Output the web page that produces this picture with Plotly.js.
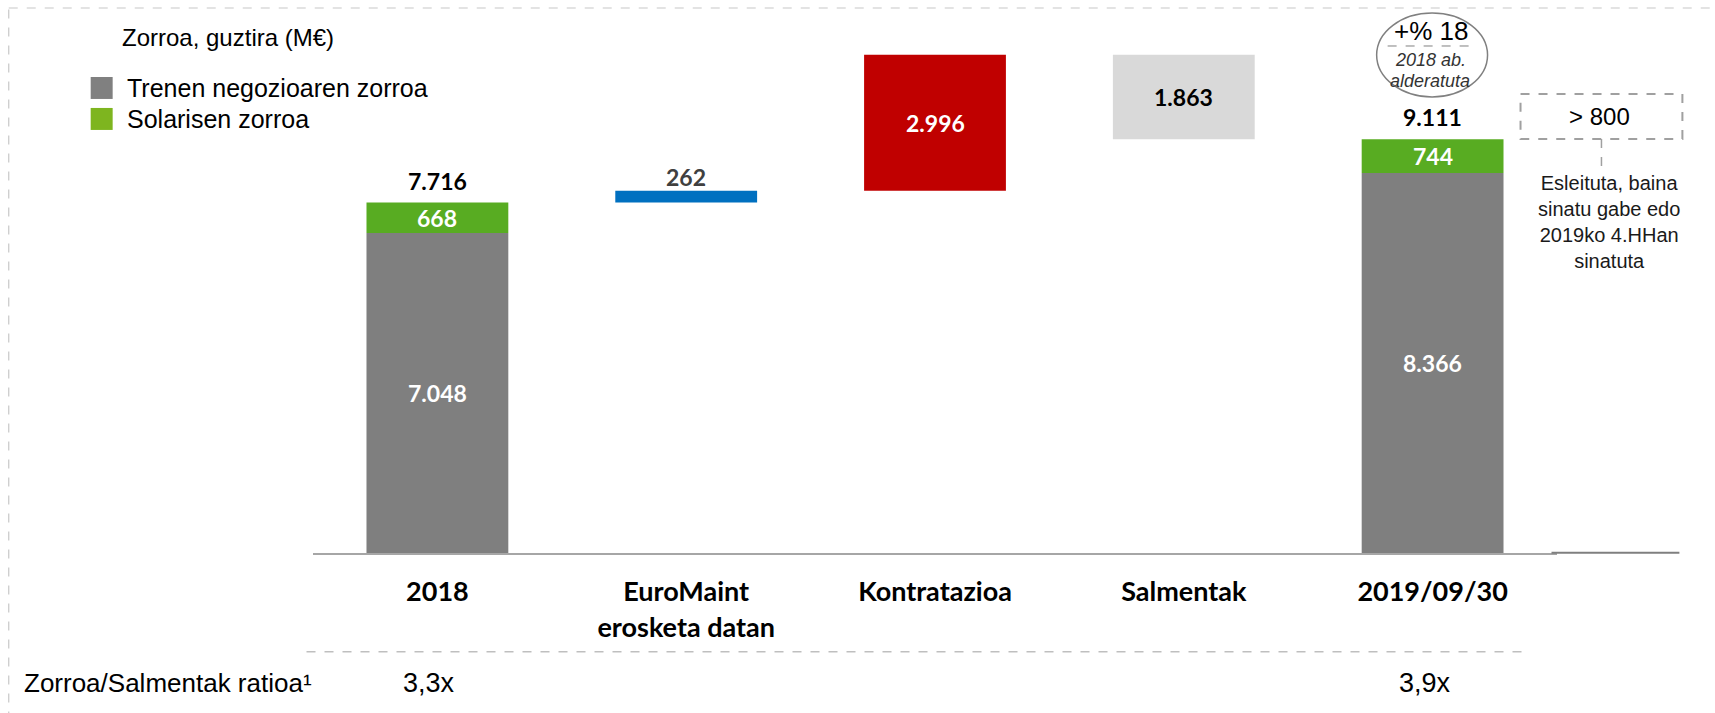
<!DOCTYPE html>
<html>
<head>
<meta charset="utf-8">
<script src="https://cdn.plot.ly/plotly-3.0.1.min.js"></script>
<style>html,body{margin:0;padding:0;background:#fff;}#chart{width:1715px;height:713px;}</style>
</head>
<body>
<div id="chart"></div>
<script>
// ---------- data ----------
const categories = ['2018', 'EuroMaint<br>erosketa datan', 'Kontratazioa', 'Salmentak', '2019/09/30'];
const trainBacklog = [7048, null, null, null, 8366];
const solarisBacklog = [668, null, null, null, 744];
const totalBacklog = [7716, null, null, null, 9111];
const bridgeChanges = [null, 262, 2996, -1863, null];
const backlogSalesRatio = ['3,3x', '', '', '', '3,9x'];
const legendNames = ['Trenen negozioaren zorroa', 'Solarisen zorroa'];
const chartTitle = 'Zorroa, guztira (M€)';
const ratioLabel = 'Zorroa/Salmentak ratioa¹';
const growthText = '+% 18';
const growthSub = ['2018 ab.', 'alderatuta'];
const pipelineValue = '> 800';
const pipelineNote = ['Esleituta, baina', 'sinatu gabe edo', '2019ko 4.HHan', 'sinatuta'];

// ---------- styles ----------
const C_GREY = '#7F7F7F', C_GREEN = '#58AC22', C_BLUE = '#0070C0', C_RED = '#C00000', C_LIGHT = '#D9D9D9';
const BOLD = 'Lato, "Open Sans", sans-serif';
const SANS = '"Liberation Sans", Arial, sans-serif';
const W = 1715, H = 713;
const M = {l: 312.5, r: 157.5, t: 30, b: 159.7};
const PW = W - M.l - M.r, PH = H - M.t - M.b;
const px = x => (x - M.l) / PW;           // pixel -> paper x
const py = y => (H - M.b - y) / PH;       // pixel -> paper y
const fmt = v => String(Math.abs(v)).replace(/\B(?=(\d{3})+(?!\d))/g, '.');
const BW = 0.57;

// bridge bases (running total from the first column)
const bases = [];
let running = totalBacklog[0];
bridgeChanges.forEach((d) => {
  if (d == null) { bases.push(null); return; }
  bases.push(running);
  running += d;
});
const bridgeColors = bridgeChanges.map((d, i) => i === 1 ? C_BLUE : (d > 0 ? C_RED : C_LIGHT));

const traces = [
  {type: 'bar', x: categories, y: trainBacklog, name: legendNames[0], width: BW,
   marker: {color: C_GREY}, hoverinfo: 'skip', showlegend: false},
  {type: 'bar', x: categories, y: solarisBacklog, base: trainBacklog, name: legendNames[1], width: BW,
   marker: {color: C_GREEN}, hoverinfo: 'skip', showlegend: false},
  {type: 'bar', x: categories, y: bridgeChanges, base: bases, width: BW,
   marker: {color: bridgeColors}, hoverinfo: 'skip', showlegend: false}
];

const ann = [];
const A = (o) => ann.push(Object.assign({showarrow: false, xanchor: 'center', yanchor: 'middle'}, o));
// value labels (x given as category index)
categories.forEach((c, i) => {
  if (trainBacklog[i] != null) {
    A({x: i, y: trainBacklog[i] / 2, text: fmt(trainBacklog[i]),
      font: {family: BOLD, size: 23, color: '#fff', weight: 700}});
    A({x: i, y: trainBacklog[i] + solarisBacklog[i] / 2, text: fmt(solarisBacklog[i]),
      font: {family: BOLD, size: 23, color: '#fff', weight: 700}});
    A({x: i, y: trainBacklog[i] + solarisBacklog[i], yshift: 22, text: fmt(totalBacklog[i]),
      font: {family: BOLD, size: 23, color: '#000', weight: 700}});
  }
  if (bridgeChanges[i] != null) {
    const d = bridgeChanges[i];
    if (i === 1) {
      A({x: i, y: bases[i] + d, yshift: 14, text: fmt(d),
        font: {family: BOLD, size: 23, color: '#404040', weight: 700}});
    } else {
      A({x: i, y: bases[i] + d / 2, text: fmt(d),
        font: {family: BOLD, size: 23, color: d > 0 ? '#fff' : '#000', weight: 700}});
    }
  }
  if (backlogSalesRatio[i]) {
    A({x: i, xref: 'x', y: py(683), yref: 'paper', xshift: -8, text: backlogSalesRatio[i],
      font: {family: SANS, size: 27, color: '#000'}});
  }
});
// title and legend
A({xref: 'paper', yref: 'paper', x: px(119), y: py(38), xanchor: 'left', text: chartTitle,
  font: {family: SANS, size: 24, color: '#000'}});
A({xref: 'paper', yref: 'paper', x: px(124), y: py(88), xanchor: 'left', text: legendNames[0],
  font: {family: SANS, size: 25, color: '#000'}});
A({xref: 'paper', yref: 'paper', x: px(124), y: py(119), xanchor: 'left', text: legendNames[1],
  font: {family: SANS, size: 25, color: '#000'}});
// ratio row label
A({xref: 'paper', yref: 'paper', x: px(21), y: py(683), xanchor: 'left', text: ratioLabel,
  font: {family: SANS, size: 26, color: '#000'}});
// growth bubble
A({xref: 'paper', yref: 'paper', x: px(1431), y: py(31), text: growthText,
  font: {family: SANS, size: 26, color: '#000'}});
A({xref: 'paper', yref: 'paper', x: px(1431), y: py(60), text: '<i>' + growthSub[0] + '</i>',
  font: {family: SANS, size: 18, color: '#333'}});
A({xref: 'paper', yref: 'paper', x: px(1430), y: py(81), text: '<i>' + growthSub[1] + '</i>',
  font: {family: SANS, size: 18, color: '#333'}});
// pipeline box
A({xref: 'paper', yref: 'paper', x: px(1600), y: py(117), text: pipelineValue,
  font: {family: SANS, size: 24, color: '#000'}});
A({xref: 'paper', yref: 'paper', x: px(1610), y: py(222), text: pipelineNote.join('<br>'),
  align: 'center', font: {family: SANS, size: 20, color: '#1a1a1a'}});

const shapes = [
  // outer dashed frame
  {type: 'rect', xref: 'paper', yref: 'paper', x0: px(8), x1: px(1740), y0: py(8), y1: py(740),
   line: {color: '#C8C8C8', width: 1.2, dash: 'dash'}},
  // legend squares
  {type: 'rect', xref: 'paper', yref: 'paper', x0: px(90), x1: px(112), y0: py(77), y1: py(99),
   fillcolor: '#808080', line: {width: 0}},
  {type: 'rect', xref: 'paper', yref: 'paper', x0: px(90), x1: px(112), y0: py(108), y1: py(130),
   fillcolor: '#7EB51F', line: {width: 0}},
  // extension of baseline on the right
  {type: 'line', xref: 'paper', yref: 'paper', x0: px(1552), x1: px(1680), y0: py(553), y1: py(553),
   line: {color: '#7F7F7F', width: 2}},
  // ratio separator
  {type: 'line', xref: 'paper', yref: 'paper', x0: px(306), x1: px(1527), y0: py(652), y1: py(652),
   line: {color: '#BFBFBF', width: 1.5, dash: 'dash'}},
  // growth ellipse
  {type: 'circle', xref: 'paper', yref: 'paper', x0: px(1377), x1: px(1488), y0: py(13), y1: py(97),
   line: {color: '#808080', width: 1.5}},
  {type: 'line', xref: 'paper', yref: 'paper', x0: px(1388), x1: px(1478), y0: py(46), y1: py(46),
   line: {color: '#808080', width: 1, dash: 'dash'}},
  // pipeline dashed box and connector
  {type: 'rect', xref: 'paper', yref: 'paper', x0: px(1521), x1: px(1683), y0: py(94), y1: py(139),
   line: {color: '#A0A0A0', width: 2, dash: 'dash'}},
  {type: 'line', xref: 'paper', yref: 'paper', x0: px(1602), x1: px(1602), y0: py(139), y1: py(166),
   line: {color: '#A0A0A0', width: 1.5, dash: 'dash'}}
];

const layout = {
  width: W, height: H,
  margin: M,
  paper_bgcolor: '#fff', plot_bgcolor: '#fff',
  barmode: 'overlay',
  separators: ',.',
  showlegend: false,
  xaxis: {type: 'category', range: [-0.5, 4.5], showgrid: false, zeroline: false,
    showline: true, linecolor: '#A6A6A6', linewidth: 2, ticks: '', ticklabelstandoff: 14,
    tickfont: {family: BOLD, size: 27, color: '#000', weight: 700}, fixedrange: true},
  yaxis: {range: [0, PH / 0.045438], visible: false, showgrid: false, zeroline: false, fixedrange: true},
  annotations: ann,
  shapes: shapes
};

Plotly.newPlot('chart', traces, layout, {displayModeBar: false, staticPlot: true});
</script>
</body>
</html>
